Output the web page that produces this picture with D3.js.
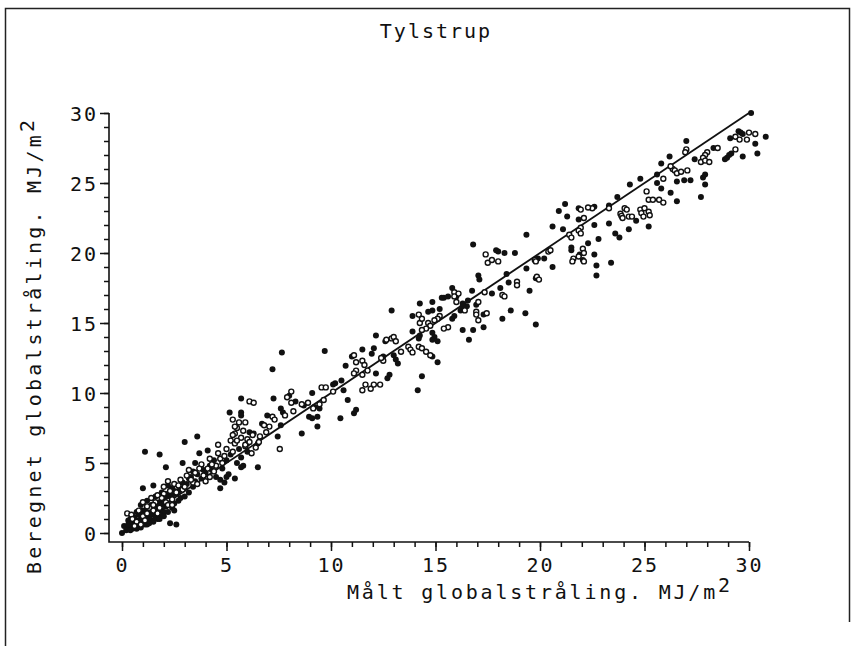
<!DOCTYPE html>
<html>
<head>
<meta charset="utf-8">
<script src="https://cdnjs.cloudflare.com/ajax/libs/d3/7.8.5/d3.min.js"></script>
<style>
  html, body { margin: 0; padding: 0; background: #fff; }
  text { font-family: "DejaVu Sans Mono", monospace; fill: #111; }
</style>
</head>
<body>
<div class="chart"></div>
<script>
(function() {
  'use strict';

  const WIDTH = 853;
  const HEIGHT = 646;

  const TITLE = 'Tylstrup';
  const X_LABEL = 'Målt globalstråling.  MJ/m';
  const Y_LABEL = 'Beregnet globalstråling.  MJ/m';
  const MAJOR_TICKS = [0, 5, 10, 15, 20, 25, 30];
  const MINOR_TICKS = [0,1,2,3,4,5,6,7,8,9,10,11,12,13,14,15,16,17,18,19,20,21,22,23,24,25,26,27,28,29,30];
  const LINE_1_1 = [[0, 0], [30, 30]];

  // Filled dots (measured, computed), MJ/m2
  const FILLED = [
    [0,0],[0.1,0.5],[0.3,0.4],[0.4,0.7],[0.5,0.3],[0.6,0.6],[0.7,0.9],[0.8,0.5],[0.9,1.0],[1.0,0.7],
    [1.1,1.2],[1.2,0.6],[1.3,1.5],[1.4,0.9],[1.5,1.3],[1.6,1.8],[1.7,1.0],[1.8,2.2],[1.9,1.6],[2.0,2.4],
    [2.1,1.9],[2.2,2.8],[2.3,0.7],[2.6,0.6],[2.4,3.2],[2.5,2.1],[2.7,3.0],[2.8,2.5],[2.9,3.6],[1.0,3.2],
    [1.5,3.4],[1.1,5.8],[1.8,5.6],[2.1,4.7],[0.5,1.2],[0.7,1.5],[0.9,2.0],[1.2,2.3],[1.4,2.0],[1.6,2.6],
    [1.9,2.9],[2.2,3.4],[0.3,0.9],[0.6,1.1],[0.8,1.3],[1.0,1.6],[1.3,1.1],[1.5,0.8],[1.7,2.1],[2.0,1.5],
    [2.3,2.6],[2.6,2.8],[2.8,3.2],[0.2,0.2],[0.4,0.2],[0.9,0.4],[1.2,0.9],[1.8,1.3],[2.4,1.8],[0.7,0.3],
    [0.3,0.6],[0.5,0.8],[0.6,0.9],[0.8,0.8],[1.0,1.0],[1.1,0.6],[1.2,1.7],[1.4,1.4],[1.6,1.1],[1.7,1.6],
    [1.9,2.0],[2.0,1.2],[2.1,2.6],[2.2,1.5],[2.4,2.7],[2.5,3.0],[2.7,2.3],[3.0,2.6],[3.2,3.9],[3.4,4.4],
    [0.4,1.0],[0.9,1.4],[1.3,0.7],[1.8,1.0],[2.5,1.6],
    [3.0,6.5],[3.6,6.9],[2.9,5.0],[3.5,5.0],[3.7,5.7],[4.1,5.9],[4.2,4.8],[4.3,4.5],[4.7,3.8],[4.7,3.2],
    [5.4,3.9],[3.1,3.5],[3.3,4.0],[3.4,3.3],[3.6,4.2],[3.8,3.9],[3.9,4.5],[4.0,4.3],[4.4,5.2],[4.5,4.0],
    [4.8,4.6],[5.0,5.2],[5.1,4.2],[5.2,5.6],[5.5,5.0],[5.6,6.0],[5.7,5.4],[5.8,4.8],[6.0,5.8],[3.2,2.9],
    [3.5,3.7],[4.9,3.6],[5.0,4.0],[6.0,6.4],[5.15,8.6],[5.7,8.6],[5.7,9.6],
    [7.65,12.9],[7.2,11.7],[7.25,9.6],[8.0,9.8],[7.6,8.9],[7.7,8.6],[7.6,7.7],[7.45,6.9],[6.5,6.4],[6.1,7.2],
    [6.3,7.1],[5.7,8.4],[5.7,4.7],[6.5,4.7],[8.7,9.1],[9.2,9.0],[9.45,8.9],[6.7,7.8],[6.95,8.4],[8.3,9.4],
    [9.7,13.0],[9.1,10.0],[8.95,8.3],[9.1,8.2],[9.35,8.3],[9.35,7.6],[8.6,7.1],
    [10.1,10.6],[10.45,8.2],[10.8,9.5],[11.1,8.55],[11.2,8.8],[10.6,10.2],[10.7,11.95],[11.5,13.1],[12.15,11.4],[12.05,13.2],
    [11.95,12.8],[12.15,14.1],[12.5,12.6],[12.8,11.3],[12.7,11.05],[12.6,13.7],[10.5,10.9],[10.2,10.7],[11.0,12.6],
    [13.0,12.7],[13.1,12.4],[13.2,12.1],[14.85,12.6],[15.1,12.2],[14.15,10.2],[14.35,11.2],
    [13.9,14.4],[14.25,14.1],[14.2,13.9],[14.85,14.3],[14.95,14.0],[14.85,13.8],[15.1,13.7],
    [15.2,16.0],[14.85,15.9],[14.65,15.8],[13.9,15.5],[12.9,15.9],
    [16.5,16.2],[15.8,15.3],[15.9,15.5],[16.3,14.5],[16.8,14.5],[16.6,13.8],
    [15.4,16.8],[15.6,16.9],[16.2,15.9],[16.3,16.2],
    [17.3,15.6],[17.3,14.7],[18.2,15.3],[18.6,15.9],[19.3,15.7],[19.8,14.9],
    [16.95,16.3],[16.55,16.6],[16.3,16.4],[15.8,17.5],[16.0,16.9],[15.3,16.8],[14.85,16.5],[14.25,16.4],
    [17.05,18.4],[17.1,18.1],[18.4,18.5],[18.5,17.9],[18.1,17.5],[17.7,17.1],[16.75,17.3],
    [16.8,20.6],[17.9,20.2],[18.0,20.1],[18.3,20.0],
    [19.9,19.6],[20.2,19.6],[19.8,18.2],[19.5,17.3],[19.35,18.9],[18.8,20.0],[19.35,21.3],
    [21.5,20.2],[21.5,20.4],[21.9,19.9],[22.05,19.5],[22.6,19.9],[22.7,19.1],[22.7,18.4],[23.4,19.3],[20.6,19.0],
    [20.6,21.9],[21.1,21.7],[21.85,22.4],[22.6,22.0],[23.3,22.1],[24.6,22.3],[25.2,21.9],[24.25,21.7],[23.8,21.1],[23.6,21.4],
    [22.8,21.0],[22.3,20.7],
    [23.3,23.4],[22.6,23.3],[21.85,23.2],[21.2,23.5],[20.9,23.0],[21.3,22.6],
    [24.8,25.3],[24.3,24.9],[23.7,24.0],
    [25.8,24.6],[26.25,24.3],[26.55,23.7],
    [25.6,25.6],[25.6,25.0],[26.55,25.1],[26.9,25.2],[27.2,25.2],
    [27.4,26.7],[27.0,28.0],[26.2,26.9],[25.8,26.4],
    [27.8,25.4],[27.9,25.6],[27.9,24.9],[27.7,24.0],
    [28.3,27.5],[28.85,26.7],[28.95,26.8],[29.05,27.0],[29.15,27.1],
    [29.1,28.2],[30.8,28.3],[30.3,27.8],[30.4,27.1],[29.7,26.9],
    [29.5,28.7],[29.6,28.6],[29.7,28.5],[30.1,30.0]
  ];

  // Open circles (measured, computed), MJ/m2
  const OPEN = [
    [0.25,1.4],[0.45,1.3],[0.5,1.0],[0.7,0.8],[0.9,0.6],[1.0,1.2],[1.2,1.4],[1.3,1.8],[1.5,1.6],[1.6,2.2],
    [1.8,1.8],[2.0,2.8],[2.1,2.2],[2.3,3.0],[2.4,2.4],[2.5,3.5],[2.6,2.9],[2.8,3.8],[2.9,3.1],[1.1,0.9],
    [0.8,1.6],[1.4,2.5],[1.7,1.4],[2.2,2.0],[0.6,0.5],[1.9,2.5],
    [1.0,2.2],[1.2,1.9],[1.5,2.0],[1.7,2.7],[2.0,3.3],[2.2,3.7],[2.4,2.0],[2.7,3.4],[3.0,3.3],[3.2,4.5],
    [3.4,3.6],[3.8,4.9],[4.2,5.3],[4.5,4.8],[4.7,5.3],
    [3.3,3.8],[3.5,4.3],[3.7,4.6],[3.9,4.1],[4.0,3.7],[4.1,4.6],[4.2,4.0],[4.4,4.4],[4.6,6.3],[4.6,5.7],
    [4.8,5.0],[5.0,6.0],[5.2,6.6],[5.4,6.4],[5.4,7.1],[5.5,7.5],[5.6,7.9],[5.8,7.3],[5.7,6.8],[5.9,6.2],
    [6.0,6.7],[3.1,4.1],[3.6,3.5],[4.3,4.9],[4.9,5.5],[5.3,5.8],
    [6.1,9.4],[6.3,9.3],[8.1,10.1],[8.1,9.3],[7.2,8.3],[7.3,8.1],[7.05,7.6],[6.8,7.7],[7.55,6.0],[6.25,7.0],
    [8.6,9.2],[8.9,9.3],[9.15,8.9],[9.45,9.2],[9.65,9.5],[7.9,9.7],[6.6,6.9],[6.9,7.2],[7.8,8.4],[8.2,8.7],
    [5.3,8.1],[5.4,7.6],[5.3,7.0],[5.5,6.6],[5.9,6.3],[6.1,6.5],[6.2,5.7],[6.4,6.1],[6.55,6.5],[5.9,7.9],
    [10.1,10.1],[11.1,12.7],[11.2,12.2],[11.5,12.3],[11.6,12.0],[11.2,11.6],[11.1,11.4],[11.5,11.3],[11.75,11.6],
    [11.65,10.6],[11.9,10.3],[12.05,10.6],[12.35,10.6],[11.5,10.2],[9.55,10.4],[9.75,10.4],[12.5,12.3],
    [13.7,13.3],[13.8,13.1],[13.9,12.9],[14.2,13.3],[14.35,13.2],[14.55,12.95],[14.75,12.7],[13.35,12.95],
    [12.65,13.8],[12.9,13.9],[13.0,14.0],[13.1,13.7],[12.4,12.5],
    [17.4,19.9],[17.5,19.3],[17.7,19.5],[18.0,19.4],[18.9,17.95],[18.9,17.7],[18.2,17.0],[18.3,16.9],
    [17.35,17.2],[17.05,16.5],[15.9,17.2],[17.45,15.7],[16.95,15.8],[16.95,15.6],[17.05,15.2],[16.4,15.9],
    [15.6,14.7],[15.4,14.6],[15.2,15.5],[15.1,15.3],[14.95,15.2],[14.65,15.0],[14.75,14.8],[14.55,14.6],
    [14.35,14.5],[14.25,15.0],[14.35,15.3],[14.2,15.6],[16.0,16.5],[16.1,17.1],[15.9,16.9],
    [20.4,20.1],[20.5,20.2],[19.75,19.5],[19.8,19.4],[19.85,18.3],[19.95,18.1],[21.4,21.3],[21.5,21.1],
    [22.05,20.3],[22.1,20.0],[21.85,19.75],[21.6,19.6],[21.55,19.4],[22.1,19.4],
    [21.95,21.8],[21.85,21.6],[21.95,21.4],[22.1,22.5],
    [23.3,23.2],[22.5,23.2],[21.95,23.1],[22.3,23.25],
    [23.85,22.8],[23.9,22.65],[23.95,22.5],[24.05,23.2],[24.15,23.1],[24.25,22.6],[24.4,22.6],
    [24.8,23.1],[24.85,22.85],[25.0,23.2],[25.2,22.95],[25.25,22.7],[24.95,22.6],
    [25.2,23.8],[25.4,23.8],[25.7,23.8],[25.9,23.6],[25.1,24.4],
    [26.35,26.0],[26.45,25.9],[26.55,25.7],[26.75,25.8],[27.05,25.9],[26.25,26.2],[25.9,25.3],
    [27.0,27.4],[26.95,27.2],[28.5,27.5],[28.0,27.2],[27.9,27.0],[27.8,26.8],[27.7,26.5],[27.9,26.6],[28.1,26.5],
    [30.0,28.6],[30.3,28.5],[29.9,28.1],[29.35,28.3],[29.55,28.1],[29.35,27.4]
  ];

  const svg = d3.select('.chart')
    .append('svg')
    .attr('width', WIDTH)
    .attr('height', HEIGHT);

  // Frame round the figure
  svg.append('path')
    .attr('d', 'M5.5,646 V8.5 H849.5 V622')
    .attr('fill', 'none')
    .attr('stroke', '#222')
    .attr('stroke-width', 1.5);

  const x = d3.scaleLinear().domain([0, 30]).range([122, 749]);
  const y = d3.scaleLinear().domain([0, 30]).range([533, 113]);

  const X0 = 109;  // y axis position
  const Y0 = 542;  // x axis position

  // Minor ticks
  svg.append('g')
    .attr('transform', 'translate(0,' + Y0 + ')')
    .call(d3.axisBottom(x).tickValues(MINOR_TICKS).tickSize(5).tickFormat(''))
    .call(g => g.select('.domain').remove());
  svg.append('g')
    .attr('transform', 'translate(' + X0 + ',0)')
    .call(d3.axisLeft(y).tickValues(MINOR_TICKS).tickSize(5).tickFormat(''))
    .call(g => g.select('.domain').remove());

  // Major ticks and labels
  const xAxis = svg.append('g')
    .attr('transform', 'translate(0,' + Y0 + ')')
    .call(d3.axisBottom(x).tickValues(MAJOR_TICKS).tickSize(9));
  xAxis.select('.domain').remove();
  xAxis.selectAll('text')
    .attr('y', 30).attr('dy', 0)
    .style('font-size', '20px').style('letter-spacing', '2px');

  const yAxis = svg.append('g')
    .attr('transform', 'translate(' + X0 + ',0)')
    .call(d3.axisLeft(y).tickValues(MAJOR_TICKS).tickSize(9).tickPadding(2));
  yAxis.select('.domain').remove();
  yAxis.selectAll('text')
    .attr('dy', '0.36em')
    .style('font-size', '20px').style('letter-spacing', '2px');

  svg.selectAll('.tick line').attr('stroke', '#111').attr('stroke-width', 1.5);

  // Axis lines
  svg.append('path')
    .attr('d', 'M' + x(30) + ',' + Y0 + ' H' + X0 + ' V' + y(30))
    .attr('fill', 'none')
    .attr('stroke', '#111')
    .attr('stroke-width', 1.6);

  // 1:1 line
  const line = d3.line().x(d => x(d[0])).y(d => y(d[1]));
  svg.append('path')
    .attr('d', line(LINE_1_1))
    .attr('fill', 'none')
    .attr('stroke', '#111')
    .attr('stroke-width', 1.8);

  // Points
  svg.append('g').selectAll('circle')
    .data(FILLED)
    .join('circle')
    .attr('cx', d => x(d[0]))
    .attr('cy', d => y(d[1]))
    .attr('r', 3)
    .attr('fill', '#111');

  svg.append('g').selectAll('circle')
    .data(OPEN)
    .join('circle')
    .attr('cx', d => x(d[0]))
    .attr('cy', d => y(d[1]))
    .attr('r', 2.5)
    .attr('fill', '#fff')
    .attr('stroke', '#111')
    .attr('stroke-width', 1.4);

  // Title
  svg.append('text')
    .attr('x', 436)
    .attr('y', 38)
    .attr('text-anchor', 'middle')
    .style('font-size', '20px')
    .style('letter-spacing', '2px')
    .text(TITLE);

  // X label
  const xl = svg.append('text')
    .attr('x', 347)
    .attr('y', 599)
    .style('font-size', '20px')
    .style('letter-spacing', '2.8px');
  xl.append('tspan').text(X_LABEL);
  xl.append('tspan').attr('dy', -7).text('2');

  // Y label
  const yl = svg.append('text')
    .attr('transform', 'translate(41,574) rotate(-90)')
    .style('font-size', '20px')
    .style('letter-spacing', '3.2px');
  yl.append('tspan').text(Y_LABEL);
  yl.append('tspan').attr('dy', -7).text('2');
})();
</script>
</body>
</html>
